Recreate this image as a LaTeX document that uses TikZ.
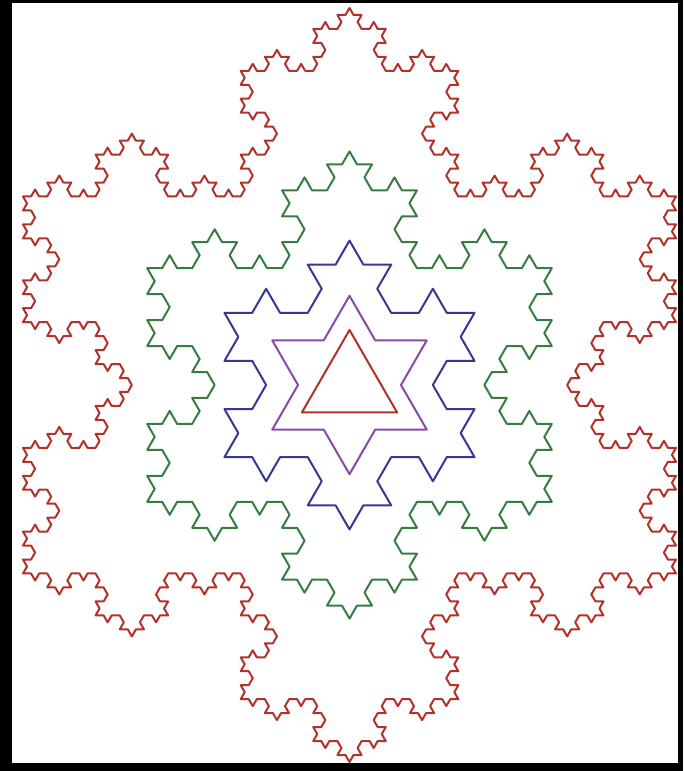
\documentclass[tikz,border=0pt]{standalone}
\usetikzlibrary{lindenmayersystems, calc}

\definecolor{kochred}{RGB}{178,50,42}
\definecolor{kochpurple}{RGB}{135,75,165}
\definecolor{kochblue}{RGB}{55,55,150}
\definecolor{kochgreen}{RGB}{55,125,65}

\pgfdeclarelindenmayersystem{Koch curve}{\rule{F -> F-F++F-F}}

\begin{document}
\begin{tikzpicture}[x=1pt, y=1pt, line join=round]
    % frame
    \fill[black] (0,0) rectangle (683,771);
    \fill[white] (12,8) rectangle (678,768);

    \coordinate (O) at (349.5,386);

    % snowflakes, order 0 to 4
    \foreach \n/\r/\col in {0/55/kochred, 1/89.2/kochpurple, 2/144.4/kochblue, 3/233.6/kochgreen, 4/377/kochred}{
        \pgfmathsetmacro\len{\r*sqrt(3)/3^\n}
        \begin{scope}[shift={($(O)+(210:\r)$)}]
            \draw[\col, line width=2pt,
                  l-system={Koch curve, step=\len pt, angle=60, axiom=F++F++F, order=\n}]
                lindenmayer system -- cycle;
        \end{scope}
    }
\end{tikzpicture}
\end{document}
